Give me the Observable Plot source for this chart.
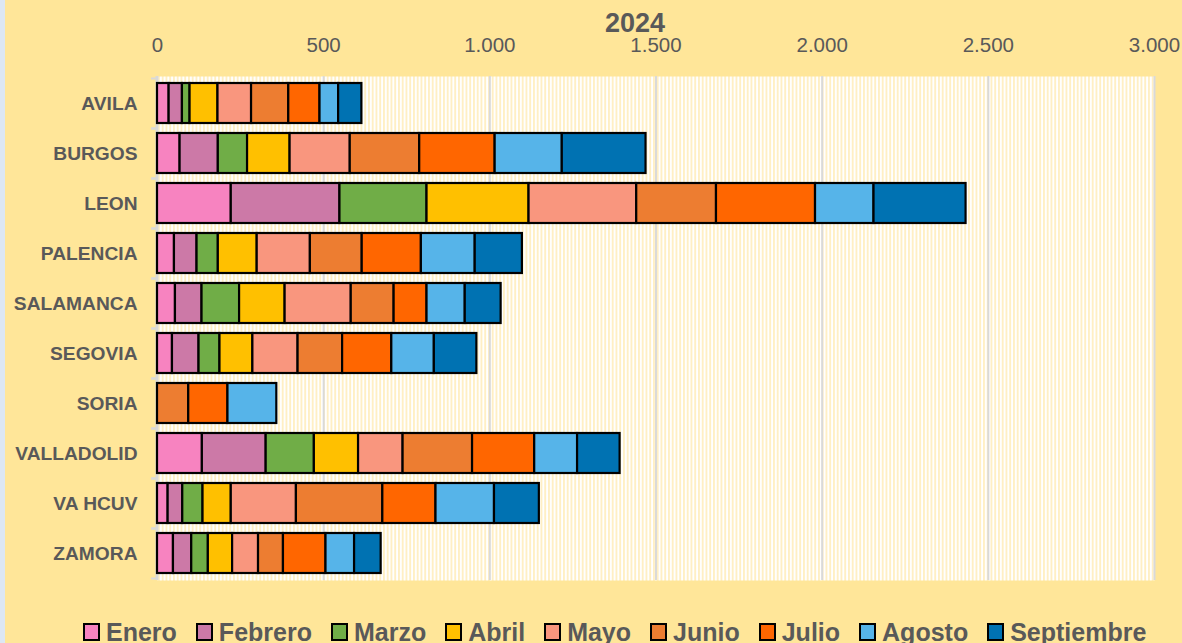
<!DOCTYPE html>
<html>
<head>
<meta charset="utf-8">
<script src="https://cdn.jsdelivr.net/npm/d3@7"></script>
<script src="https://cdn.jsdelivr.net/npm/@observablehq/plot@0.6"></script>
<style>
  html, body { margin: 0; padding: 0; background: #FFE699; }
  #wrap { position: relative; width: 1182px; height: 643px; overflow: hidden; background: #FFE699;
          font-family: "Liberation Sans", Arial, sans-serif; color: #595959; }
  #edge { position: absolute; left: 0; top: 0; width: 5px; height: 643px; background: #DDE7F3; }
  #title { position: relative; height: 34px; }
  #title span { position: absolute; left: 635px; top: 13px; transform: translateX(-50%);
                font-weight: bold; font-size: 27px; line-height: 20px; }
  #legend { display: flex; align-items: flex-start; padding-left: 83px; height: 30px;
            font-weight: bold; font-size: 25px; line-height: 29px; }
  .item { display: flex; align-items: flex-start; margin-right: 19px; white-space: nowrap; }
  .sw { width: 17px; height: 18px; box-sizing: border-box; border: 2px solid #000; margin-top: 5px; margin-right: 6px; }
  svg { display: block; }
</style>
</head>
<body>
<div id="wrap">
  <div id="edge"></div>
  <div id="title"><span>2024</span></div>
  <div id="chart"></div>
  <div id="legend"></div>
</div>
<script>
const provinces = ["AVILA", "BURGOS", "LEON", "PALENCIA", "SALAMANCA", "SEGOVIA", "SORIA", "VALLADOLID", "VA HCUV", "ZAMORA"];
const months = ["Enero", "Febrero", "Marzo", "Abril", "Mayo", "Junio", "Julio", "Agosto", "Septiembre"];
const monthColors = ["#F783C0", "#CC79A7", "#70AD47", "#FFC000", "#F9967E", "#ED7D31", "#FF6600", "#56B4E9", "#0072B2"];

const enero      = [35,  68, 222,  51,  54,  45,   0, 135,  32,  48];
const febrero    = [40, 115, 327,  68,  80,  80,   0, 192,  44,  55];
const marzo      = [23,  88, 262,  64, 113,  63,   0, 145,  61,  50];
const abril      = [84, 128, 307, 117, 137,  99,   0, 133,  85,  73];
const mayo       = [101,181, 324, 160, 199, 136,   0, 134, 196,  78];
const junio      = [112,209, 240, 156, 129, 134,  94, 209, 260,  75];
const julio      = [94, 227, 298, 178,  99, 148, 118, 187, 160, 128];
const agosto     = [56, 202, 176, 162, 115, 128, 147, 129, 176,  86];
const septiembre = [70, 252, 277, 142, 108, 128,   0, 128, 135,  80];

const xTicks = [0, 500, 1000, 1500, 2000, 2500, 3000];
const xTickLabels = ["0", "500", "1.000", "1.500", "2.000", "2.500", "3.000"];

const series = [enero, febrero, marzo, abril, mayo, junio, julio, agosto, septiembre];
const data = [];
provinces.forEach((p, i) => {
  months.forEach((m, j) => {
    const v = series[j][i];
    if (v > 0) data.push({province: p, month: m, value: v});
  });
});

const chart = Plot.plot({
  width: 1182,
  height: 584,
  marginLeft: 157,
  marginRight: 28,
  marginTop: 42,
  marginBottom: 38,
  style: {background: "transparent", color: "#595959", fontFamily: "'Liberation Sans', Arial, sans-serif"},
  x: {domain: [0, 3000], axis: null},
  y: {domain: provinces, paddingInner: 0.2, paddingOuter: 0.14, axis: null},
  color: {domain: months, range: monthColors},
  marks: [
    Plot.frame({fill: "url(#stripes)", stroke: null}),
    Plot.gridX(xTicks, {stroke: "#D9D9D9", strokeOpacity: 1, strokeWidth: 2}),
    Plot.ruleX([0], {stroke: "#D9D9D9", strokeWidth: 2, dx: -1}),
    Plot.axisX({anchor: "top", ticks: xTicks, tickSize: 0, tickPadding: 25, fontSize: 20.5,
                tickFormat: (d) => xTickLabels[xTicks.indexOf(d)], label: null}),
    Plot.axisY({anchor: "left", tickSize: 0, tickPadding: 20, fontSize: 19.2, fontWeight: "bold", label: null}),
    Plot.axisY({anchor: "left", tickSize: 6, dy: 25, stroke: "#D9D9D9", strokeWidth: 2, tickFormat: () => "", label: null}),
    Plot.axisY({anchor: "left", tickSize: 6, dy: -25, stroke: "#D9D9D9", strokeWidth: 2, tickFormat: () => "", label: null}),
    Plot.barX(data, {x: "value", y: "province", fill: "month", stroke: "#000", strokeWidth: 2.2, order: null})
  ]
});

const NS = "http://www.w3.org/2000/svg";
const defs = document.createElementNS(NS, "defs");
const pat = document.createElementNS(NS, "pattern");
pat.setAttribute("id", "stripes");
pat.setAttribute("patternUnits", "userSpaceOnUse");
pat.setAttribute("width", "3.75");
pat.setAttribute("height", "10");
const r1 = document.createElementNS(NS, "rect");
r1.setAttribute("width", "3.75"); r1.setAttribute("height", "10"); r1.setAttribute("fill", "#FFFFFF");
const r2 = document.createElementNS(NS, "rect");
r2.setAttribute("width", "1.9"); r2.setAttribute("height", "10"); r2.setAttribute("fill", "#FFEFC4");
pat.appendChild(r1); pat.appendChild(r2);
defs.appendChild(pat);
chart.insertBefore(defs, chart.firstChild);

document.getElementById("chart").appendChild(chart);

const legend = document.getElementById("legend");
months.forEach((m, i) => {
  const it = document.createElement("div");
  it.className = "item";
  const sw = document.createElement("div");
  sw.className = "sw";
  sw.style.background = monthColors[i];
  const t = document.createElement("span");
  t.textContent = m;
  it.appendChild(sw); it.appendChild(t);
  legend.appendChild(it);
});
</script>
</body>
</html>
